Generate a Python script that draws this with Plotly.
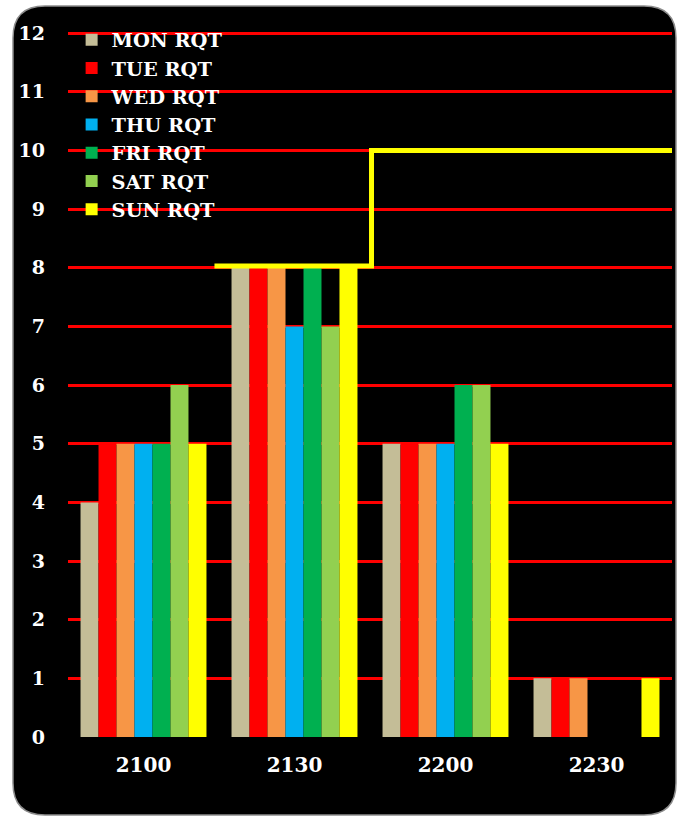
import plotly.graph_objects as go

categories = ["2100", "2130", "2200", "2230"]
series_names = ["MON RQT", "TUE RQT", "WED RQT", "THU RQT", "FRI RQT", "SAT RQT", "SUN RQT"]
mon = [4, 8, 5, 1]
tue = [5, 8, 5, 1]
wed = [5, 8, 5, 1]
thu = [5, 7, 5, 0]
fri = [5, 8, 6, 0]
sat = [6, 7, 6, 0]
sun = [5, 8, 5, 1]
series_values = [mon, tue, wed, thu, fri, sat, sun]
colors = ["#C4BD97", "#FF0000", "#F79646", "#00B0F0", "#00B050", "#92D050", "#FFFF00"]

# target step line (category positions on the numeric category axis)
target_x = [0.47, 1.51, 3.5]
target_y = [8.03, 10, 10]

W, H = 683, 821
L, R, T, B = 68, 11, 32, 84
FONT = "DejaVu Serif"

fig = go.Figure()
xpos = list(range(len(categories)))
for name, vals, col in zip(series_names, series_values, colors):
    fig.add_trace(go.Bar(x=xpos, y=vals, name=name, marker=dict(color=col, line=dict(width=0))))

fig.add_trace(go.Scatter(x=target_x, y=target_y, mode="lines", line=dict(color="#FFFF00", width=5, shape="hv"),
                         showlegend=False, hoverinfo="skip"))

pw = W - L - R
ph = H - T - B

def px2x(p):
    return (p - L) / pw

def py2y(p):
    return (H - B - p) / ph

x0, x1 = px2x(13), px2x(676)
y0, y1 = py2y(815), py2y(6)
rx = 32 / pw
ry = 32 / ph
path = (f"M {x0+rx},{y1} L {x1-rx},{y1} Q {x1},{y1} {x1},{y1-ry} "
        f"L {x1},{y0+ry} Q {x1},{y0} {x1-rx},{y0} L {x0+rx},{y0} Q {x0},{y0} {x0},{y0+ry} "
        f"L {x0},{y1-ry} Q {x0},{y1} {x0+rx},{y1} Z")
fig.add_shape(type="path", path=path, xref="paper", yref="paper", layer="below",
              fillcolor="black", line=dict(color="#8c8c8c", width=1.5))

fig.update_layout(
    width=W, height=H,
    margin=dict(l=L, r=R, t=T, b=B),
    paper_bgcolor="white", plot_bgcolor="rgba(0,0,0,0)",
    barmode="group", bargap=0.166, bargroupgap=0,
    font=dict(family=FONT, color="white"),
    showlegend=True,
    legend=dict(x=0.006, y=1.016, xanchor="left", yanchor="top", bgcolor="rgba(0,0,0,0)",
                font=dict(family=FONT, size=19.4, color="white", weight="bold"),
                itemclick=False, tracegroupgap=0),
    xaxis=dict(range=[-0.5, 3.5], tickmode="array", tickvals=xpos, ticktext=categories,
               showgrid=False, zeroline=False, showline=False, ticks="",
               tickfont=dict(family=FONT, size=20, color="white", weight="bold"), ticklabelstandoff=14),
    yaxis=dict(range=[0, 12.02], tickmode="array", tickvals=list(range(0, 13)),
               showgrid=True, gridcolor="#FF0000", gridwidth=2.5,
               zeroline=True, zerolinecolor="black", zerolinewidth=2, showline=False, ticks="",
               tickfont=dict(family=FONT, size=19, color="white", weight="bold"), ticklabelstandoff=22),
)

fig.write_html("out.html")
